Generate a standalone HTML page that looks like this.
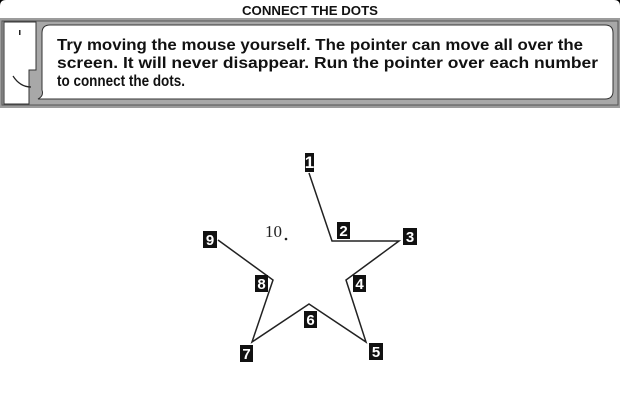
<!DOCTYPE html>
<html><head><style>
html,body{margin:0;padding:0;background:#fff;width:620px;height:414px;overflow:hidden}
svg{display:block}
</style></head><body>
<svg width="620" height="414" viewBox="0 0 620 414" xmlns="http://www.w3.org/2000/svg">
<rect width="620" height="414" fill="#fff"/>
<path d="M0 0 H6 Q0 0 0 6 Z M620 0 H614 Q620 0 620 6 Z" fill="#000"/>
<text x="310" y="15" text-anchor="middle" font-family="Liberation Sans, sans-serif" font-weight="bold" font-size="13" fill="#111" textLength="136" lengthAdjust="spacingAndGlyphs">CONNECT THE DOTS</text>
<rect x="0" y="18" width="620" height="90" fill="#9c9c9c"/>
<rect x="2" y="21" width="616" height="84" fill="#a8a8a8" stroke="#555" stroke-width="1"/>
<path d="M4 22 H36 V70 H29 V104 H4 Z" fill="#fff" stroke="#333" stroke-width="1"/>
<rect x="19" y="30" width="1.5" height="5" fill="#222"/>
<path d="M13 76 Q20 87 31 87" fill="none" stroke="#222" stroke-width="1.2"/>
<path d="M50 25 H605 Q613 25 613 33 V91 Q613 99 605 99 H38 Q44 96 42 90 V33 Q42 25 50 25 Z" fill="#fff" stroke="#333" stroke-width="1"/>
<g font-family="Liberation Sans, sans-serif" font-weight="bold" font-size="16" fill="#111" lengthAdjust="spacingAndGlyphs">
<text x="57" y="50" textLength="526" lengthAdjust="spacingAndGlyphs">Try moving the mouse yourself.  The pointer can move all over the</text>
<text x="57" y="68" textLength="541" lengthAdjust="spacingAndGlyphs">screen.  It will never disappear.  Run the pointer over each number</text>
<text x="57" y="86" textLength="128" lengthAdjust="spacingAndGlyphs">to connect the dots.</text>
</g>
<g stroke="#222" stroke-width="1.5" fill="none">
<polyline points="309,173 332,241 399,241 346,280 366,342 309,304 252,342 273,280 218,240"/>
</g>
<text x="265" y="237" font-family="Liberation Serif, serif" font-size="17" fill="#222">10</text>
<circle cx="286" cy="239" r="1.3" fill="#222"/>
<g font-family="Liberation Sans, sans-serif" font-weight="bold" font-size="15" fill="#fff" text-anchor="middle">
<rect x="305" y="153" width="9" height="19" fill="#111"/><text x="309.5" y="168" font-size="17">1</text>
<rect x="337" y="222" width="13" height="17" fill="#111"/><text x="343.5" y="236">2</text>
<rect x="403" y="228" width="14" height="17" fill="#111"/><text x="410" y="242">3</text>
<rect x="353" y="275" width="13" height="17" fill="#111"/><text x="359.5" y="289">4</text>
<rect x="369" y="343" width="14" height="17" fill="#111"/><text x="376" y="357">5</text>
<rect x="304" y="311" width="13" height="17" fill="#111"/><text x="310.5" y="325">6</text>
<rect x="240" y="345" width="13" height="17" fill="#111"/><text x="246.5" y="359">7</text>
<rect x="255" y="275" width="13" height="17" fill="#111"/><text x="261.5" y="289">8</text>
<rect x="203" y="231" width="14" height="17" fill="#111"/><text x="210" y="245">9</text>
</g>
</svg>
</body></html>
